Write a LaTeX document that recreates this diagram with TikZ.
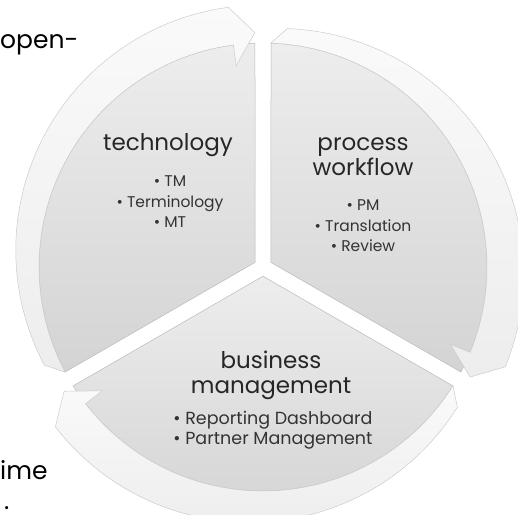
\documentclass[tikz,border=0pt]{standalone}
\usepackage{fontspec}
\setmainfont{Poppins}
\usetikzlibrary{calc,positioning}

\tikzset{
  segment/.style={top color=gray!14, bottom color=gray!34, draw=gray!55, line width=0.5pt},
  ringarrow/.style={top color=gray!4, bottom color=gray!14, draw=gray!40, line width=0.5pt},
  head/.style={text=black!85, align=center, font=\fontsize{23}{24}\selectfont},
  items/.style={text=black!80, align=center, font=\fontsize{15.5}{20.5}\selectfont},
  side/.style={text=black, anchor=west, inner sep=0pt, font=\fontsize{25}{28}\selectfont}
}

\begin{document}
\begin{tikzpicture}[x=1pt, y=1pt]
\useasboundingbox (-263,-247) rectangle (255,267);
\foreach \a in {90,-30,210}{
  \pgfmathsetmacro\b{\a+120}
  \path[segment] ({\a+60}:9.2) -- ({\a+2.05}:224) arc[start angle=\a+2.05, end angle=\b-2.05, radius=224] -- cycle;
  \path[ringarrow] ({\b-2}:224) arc[start angle=\b-2, end angle=\a+7.6, radius=224] -- ({\a+7.6}:203) -- ({\a+2}:234.5) -- ({\a+7.6}:262) arc[start angle=\a+7.6, end angle=\b-2, radius=245] -- cycle;
}
\node[head] (tech) at (-95,122) {technology};
\node[items] (techlist) at (-93,65) {• TM\\ • Terminology\\ • MT};
\node[head, font=\fontsize{23}{23}\selectfont] (proc) at (100,110.5) {process\\ workflow};
\node[items] (proclist) at (100,41) {• PM\\ • Translation\\ • Review};
\node[head, font=\fontsize{23}{25}\selectfont] (bus) at (8,-108) {business\\ management};
\node[items, font=\fontsize{17.5}{20}\selectfont] (buslist) at (10,-163) {• Reporting Dashboard\\ • Partner Management};
\node[side] (open) at (-263,222) {open-};
\node[side] (ime) at (-263,-203) {ime};
\node[side] (dot) at (-259,-241) {.};
\end{tikzpicture}
\end{document}
